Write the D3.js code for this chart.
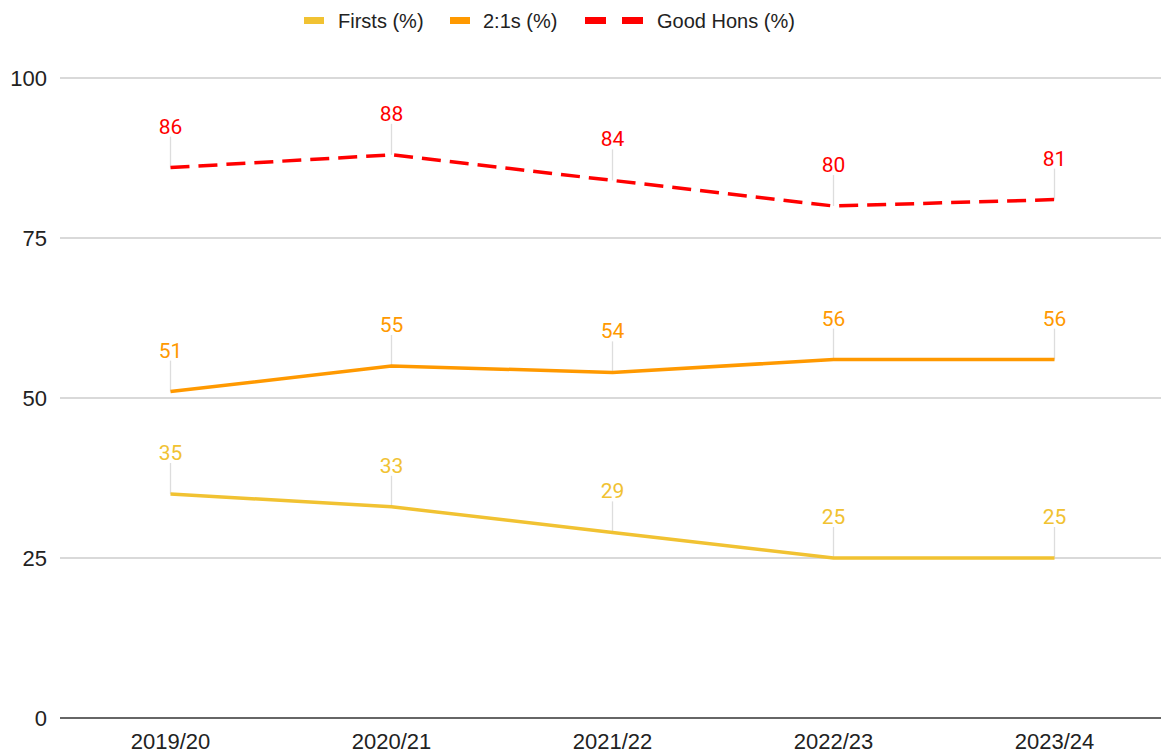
<!DOCTYPE html>
<html>
<head>
<meta charset="utf-8">
<script src="https://cdn.jsdelivr.net/npm/d3@7"></script>
<style>
  body { margin: 0; background: #fff; }
  svg { display: block; }
</style>
</head>
<body>
<div id="chart"></div>
<script>
const years = ["2019/20", "2020/21", "2021/22", "2022/23", "2023/24"]
const firsts = [35, 33, 29, 25, 25]
const twoOnes = [51, 55, 54, 56, 56]
const goodHons = [86, 88, 84, 80, 81]
const yTicks = [0, 25, 50, 75, 100]

const series = [
    {name: "Firsts (%)", values: firsts, color: "#f1c232", dash: null},
    {name: "2:1s (%)", values: twoOnes, color: "#ff9900", dash: null},
    {name: "Good Hons (%)", values: goodHons, color: "#ff0000", dash: "19,9"},
]

const width = 1161, height = 755
const margin = {left: 60, right: 0, top: 78, bottom: 37}

const svg = d3.select('#chart').append('svg')
    .attr('width', width)
    .attr('height', height)

const x = d3.scaleBand().domain(years).range([margin.left, 1165])
const y = d3.scaleLinear().domain([0, 100]).range([height - margin.bottom, margin.top])
const cx = d => x(d) + x.bandwidth() / 2

// gridlines + y labels
const grid = svg.append('g')
grid.selectAll('line')
    .data(yTicks.filter(t => t !== 0))
    .join('line')
    .attr('x1', margin.left).attr('x2', width)
    .attr('y1', d => y(d)).attr('y2', d => y(d))
    .attr('stroke', '#cccccc')
    .attr('stroke-width', 1.3)

svg.append('g').selectAll('text')
    .data(yTicks)
    .join('text')
    .attr('x', 47)
    .attr('y', d => y(d))
    .attr('dy', '0.36em')
    .attr('text-anchor', 'end')
    .attr('font-family', 'Liberation Sans, Arial, sans-serif')
    .attr('font-size', 22)
    .attr('fill', '#222')
    .text(d => d)

// baseline
svg.append('line')
    .attr('x1', margin.left).attr('x2', width)
    .attr('y1', y(0)).attr('y2', y(0))
    .attr('stroke', '#333')
    .attr('stroke-width', 1.5)

// x labels
svg.append('g').selectAll('text')
    .data(years)
    .join('text')
    .attr('x', d => cx(d))
    .attr('y', 749)
    .attr('text-anchor', 'middle')
    .attr('font-family', 'Liberation Sans, Arial, sans-serif')
    .attr('font-size', 22)
    .attr('fill', '#222')
    .text(d => d)

const line = d3.line()
    .x((d, i) => cx(years[i]))
    .y(d => y(d))

const lines = svg.selectAll('.series')
    .data(series)
    .join('g')
    .attr('class', 'series')

// leader lines
lines.selectAll('line.leader')
    .data(s => s.values.map((v, i) => ({v, i})))
    .join('line')
    .attr('class', 'leader')
    .attr('x1', d => cx(years[d.i])).attr('x2', d => cx(years[d.i]))
    .attr('y1', d => y(d.v) - 31).attr('y2', d => y(d.v))
    .attr('stroke', '#dddddd')
    .attr('stroke-width', 1.3)

lines.append('path')
    .attr('d', s => line(s.values))
    .attr('fill', 'none')
    .attr('stroke', s => s.color)
    .attr('stroke-width', 3.5)
    .attr('stroke-dasharray', s => s.dash)

lines.selectAll('text.label')
    .data(s => s.values.map((v, i) => ({v, i, color: s.color})))
    .join('text')
    .attr('class', 'label')
    .attr('x', d => cx(years[d.i]))
    .attr('y', d => y(d.v) - 34)
    .attr('text-anchor', 'middle')
    .attr('font-family', 'Roboto, sans-serif')
    .attr('font-size', 21)
    .attr('fill', d => d.color)
    .text(d => d.v)

// legend
const legendItems = [
    {x: 304, tx: 338},
    {x: 450, tx: 483},
    {x: 585, tx: 657},
]
const legend = svg.append('g')
series.forEach((s, i) => {
    const it = legendItems[i]
    if (s.dash) {
        legend.append('rect').attr('x', it.x).attr('y', 17).attr('width', 21).attr('height', 7).attr('fill', s.color)
        legend.append('rect').attr('x', it.x + 37).attr('y', 17).attr('width', 21).attr('height', 7).attr('fill', s.color)
    } else {
        legend.append('rect').attr('x', it.x).attr('y', 17).attr('width', 20).attr('height', 7).attr('fill', s.color)
    }
    legend.append('text')
        .attr('x', it.tx)
        .attr('y', 21)
        .attr('dy', '0.36em')
        .attr('font-family', 'Liberation Sans, Arial, sans-serif')
        .attr('font-size', 20)
        .attr('fill', '#222')
        .text(s.name)
})
</script>
</body>
</html>
